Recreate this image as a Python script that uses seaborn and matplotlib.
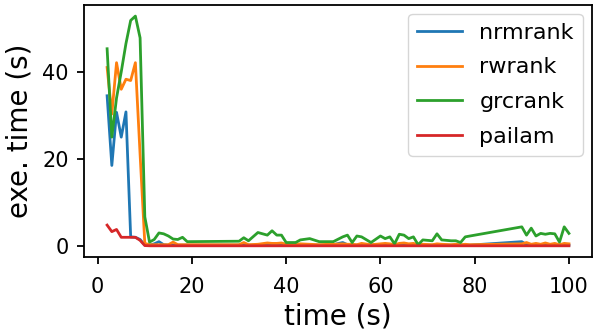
import matplotlib
matplotlib.use("Agg")
import matplotlib.pyplot as plt
import seaborn as sns
import pandas as pd

times = [2, 3, 4, 5, 6, 7, 8, 9, 10, 11, 12, 13, 14, 15, 16, 17, 18, 19,
         30, 31, 32, 34, 36, 37, 38, 39, 40, 42, 43, 45, 47, 49, 50, 52, 53, 54, 55, 56, 58,
         60, 61, 62, 63, 64, 65, 66, 67, 68, 69, 71, 72, 73, 75, 76, 77, 78, 79,
         90, 91, 92, 93, 94, 95, 96, 97, 98, 99, 100]

nrmrank = [34.5, 18.5, 30.7, 25.0, 30.8, 2.1, 2.0, 1.5, 0.2, 0.2, 0.5, 1.0, 0.3, 0.2, 0.2, 0.2, 0.2, 0.2,
           0.2, 0.3, 0.2, 0.2, 0.3, 0.2, 0.2, 0.3, 0.2, 0.2, 0.2, 0.2, 0.2, 0.2, 0.3, 0.8, 0.3, 0.2, 0.2, 0.2, 0.2,
           0.2, 0.2, 0.2, 0.2, 0.2, 0.2, 0.2, 0.2, 0.2, 0.2, 0.2, 0.2, 0.2, 0.2, 0.2, 0.2, 0.2, 0.2,
           1.0, 0.3, 0.2, 0.2, 0.2, 0.2, 0.2, 0.2, 0.2, 0.2, 0.2]

rwrank = [41.0, 30.3, 42.1, 36.0, 38.3, 38.0, 42.1, 21.0, 0.6, 0.3, 0.3, 0.3, 0.3, 0.3, 0.9, 0.3, 0.3, 0.3,
          0.3, 0.8, 0.3, 0.4, 0.7, 0.6, 0.6, 0.7, 0.4, 0.4, 0.5, 0.4, 0.3, 0.4, 0.4, 0.5, 0.4, 0.4, 0.3, 0.6, 0.3,
          0.5, 0.6, 0.5, 0.3, 0.6, 0.7, 0.5, 0.6, 0.3, 0.4, 0.3, 0.5, 0.4, 0.3, 0.4, 0.3, 0.4, 0.3,
          0.5, 0.8, 0.4, 0.6, 0.4, 0.7, 0.4, 0.6, 0.3, 0.6, 0.5]

grcrank = [45.3, 25.0, 34.0, 40.0, 46.5, 51.8, 52.8, 47.8, 6.7, 0.9, 1.5, 3.0, 2.8, 2.3, 1.6, 1.5, 2.0, 1.0,
           1.1, 1.9, 1.2, 3.1, 2.5, 3.5, 2.5, 2.5, 0.8, 0.8, 1.4, 1.7, 1.0, 1.0, 1.0, 2.1, 2.5, 0.8, 2.3, 2.1, 0.8,
           2.3, 1.7, 2.1, 0.5, 2.7, 2.5, 1.7, 2.1, 0.3, 1.4, 1.2, 2.8, 1.4, 1.2, 1.2, 0.8, 2.1, 2.3,
           4.4, 2.5, 4.1, 2.3, 2.9, 2.7, 2.9, 2.8, 0.9, 4.4, 2.9]

pailam = [4.8, 3.3, 3.8, 2.0, 2.0, 2.0, 2.0, 1.3, 0.1, 0.05, 0.05, 0.05, 0.05, 0.05, 0.05, 0.05, 0.05, 0.05,
          0.05, 0.05, 0.05, 0.05, 0.05, 0.05, 0.05, 0.05, 0.05, 0.05, 0.05, 0.05, 0.05, 0.05, 0.05, 0.05, 0.05, 0.05, 0.05, 0.05, 0.05,
          0.05, 0.05, 0.05, 0.05, 0.05, 0.05, 0.05, 0.05, 0.05, 0.05, 0.05, 0.05, 0.05, 0.05, 0.05, 0.05, 0.05, 0.05,
          0.05, 0.05, 0.05, 0.05, 0.05, 0.05, 0.05, 0.05, 0.05, 0.05, 0.05]

series = {"nrmrank": nrmrank, "rwrank": rwrank, "grcrank": grcrank, "pailam": pailam}
colors = ["#1f77b4", "#ff7f0e", "#2ca02c", "#d62728"]

plt.rcParams["axes.linewidth"] = 1.3

fig, ax = plt.subplots(figsize=(5.98, 3.29), dpi=100)
fig.subplots_adjust(left=0.1405, right=0.99, top=0.986, bottom=0.218)

for (name, vals), c in zip(series.items(), colors):
    df = pd.DataFrame({"time": times, "val": vals})
    sns.lineplot(data=df, x="time", y="val", ax=ax, color=c, label=name, linewidth=2.0)

ax.set_xlabel("time (s)", fontsize=20, labelpad=4)
ax.set_ylabel("exe. time (s)", fontsize=20, labelpad=6)
ax.tick_params(labelsize=15, length=5, width=1.3, pad=6)
ax.tick_params(axis="x", pad=9)
ax.set_xticks([0, 20, 40, 60, 80, 100])
ax.set_yticks([0, 20, 40])
ax.legend(fontsize=16, loc="upper right", labelspacing=0.66, borderaxespad=0.42)

fig.savefig("out.png", dpi=100)
